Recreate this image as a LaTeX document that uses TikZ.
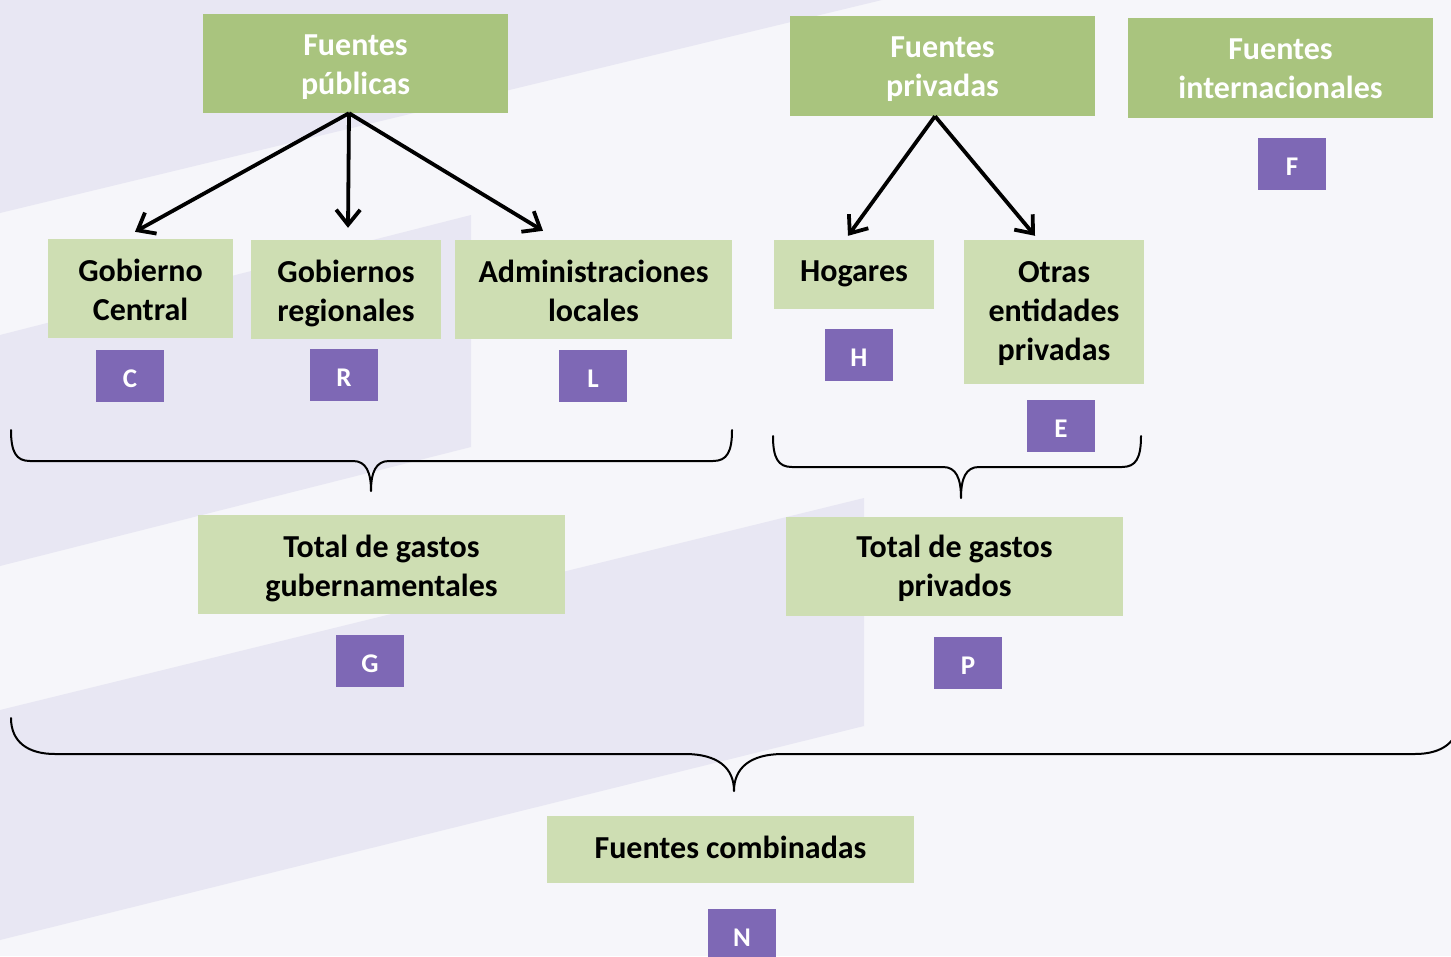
\documentclass[tikz,border=0pt]{standalone}
\usepackage{fontspec}
\setmainfont{Carlito}
\usetikzlibrary{arrows.meta}
\definecolor{bglight}{HTML}{F6F6FA}
\definecolor{bgdark}{HTML}{E8E7F3}
\definecolor{gdark}{HTML}{A9C47E}
\definecolor{glight}{HTML}{CEDEB3}
\definecolor{lpurple}{HTML}{7E68B5}
\tikzset{
  hdr/.style={fill=gdark, inner sep=0pt},
  sub/.style={fill=glight, inner sep=0pt},
  hdrtxt/.style={text=white, font=\bfseries\fontsize{32}{39}\selectfont, align=center, inner sep=0pt},
  subtxt/.style={text=black, font=\bfseries\fontsize{32}{39}\selectfont, align=center, inner sep=0pt},
  lett/.style={fill=lpurple, text=white, font=\bfseries\fontsize{27}{32}\selectfont, minimum width=68pt, minimum height=52pt, inner sep=0pt, text height=22pt, text depth=0pt},
  arr/.style={line width=3.8pt, -{Straight Barb[length=15pt,width=24pt]}},
  brace/.style={line width=2pt, line cap=round, line join=round},
}
\begin{document}
\begin{tikzpicture}[x=1pt,y=-1pt]
\clip (0,0) rectangle (1451,956);
\fill[bglight] (0,0) rectangle (1451,956);
\fill[bgdark] (0,0) -- (882,0) -- (0,213) -- cycle;
\fill[bgdark] (0,335) -- (471,215) -- (471,447) -- (0,566) -- cycle;
\fill[bgdark] (0,710) -- (864,498) -- (864,726) -- (0,940) -- cycle;

% header boxes
\node[hdr, minimum width=305pt, minimum height=99pt] (pub) at (355.5,63.5) {};
\node[hdrtxt] (pubt) at ([yshift=-4pt]pub.center) {Fuentes\\públicas};
\node[hdr, minimum width=305pt, minimum height=100pt] (priv) at (942.5,66) {};
\node[hdrtxt] (privt) at ([yshift=-3pt]priv.center) {Fuentes\\privadas};
\node[hdr, minimum width=305pt, minimum height=100pt] (intl) at (1280.5,68) {};
\node[hdrtxt] (intlt) at ([yshift=-1pt]intl.center) {Fuentes\\internacionales};

% sub boxes
\node[sub, minimum width=185pt, minimum height=99pt] (gc) at (140.5,288.5) {};
\node[subtxt] (gct) at ([yshift=-1pt]gc.center) {Gobierno\\Central};
\node[sub, minimum width=190pt, minimum height=99pt] (gr) at (346,289.5) {};
\node[subtxt] (grt) at ([yshift=-4pt]gr.center) {Gobiernos\\regionales};
\node[sub, minimum width=277pt, minimum height=99pt] (al) at (593.5,289.5) {};
\node[subtxt] (alt) at ([yshift=-1pt]al.center) {Administraciones\\locales};
\node[sub, minimum width=160pt, minimum height=69pt] (hog) at (854,274.5) {};
\node[subtxt] (hogt) at ([yshift=1pt]hog.center) {Hogares};
\node[sub, minimum width=180pt, minimum height=144pt] (otr) at (1054,312) {};
\node[subtxt] (otrt) at ([yshift=-2pt]otr.center) {Otras\\entidades\\privadas};
\node[sub, minimum width=367pt, minimum height=99pt] (tg) at (381.5,564.5) {};
\node[subtxt] (tgt) at ([yshift=-4pt]tg.center) {Total de gastos\\gubernamentales};
\node[sub, minimum width=337pt, minimum height=99pt] (tp) at (954.5,566.5) {};
\node[subtxt] (tpt) at ([yshift=-2pt]tp.center) {Total de gastos\\privados};
\node[sub, minimum width=367pt, minimum height=67pt] (fc) at (730.5,849.5) {};
\node[subtxt] (fct) at ([yshift=2pt]fc.center) {Fuentes combinadas};

% letter boxes
\node[lett] (lc) at (130,376) {C};
\node[lett] (lr) at (344,375) {R};
\node[lett] (ll) at (593,376) {L};
\node[lett] (lh) at (859,355) {H};
\node[lett] (le) at (1061,426) {E};
\node[lett] (lf) at (1292,164) {F};
\node[lett] (lg) at (370,661) {G};
\node[lett] (lp) at (968,663) {P};
\node[lett] (ln) at (742,935) {N};

% arrows
\draw[arr] ([xshift=-6.5pt]pub.south) -- ([xshift=-5.5pt,yshift=7pt]gc.north);
\draw[arr] ([xshift=-6.5pt]pub.south) -- ([xshift=2pt,yshift=12pt]gr.north);
\draw[arr] ([xshift=-6.5pt]pub.south) -- ([xshift=-50.5pt,yshift=9pt]al.north);
\draw[arr] ([xshift=-7.5pt]priv.south) -- ([xshift=-6pt,yshift=4pt]hog.north);
\draw[arr] ([xshift=-7.5pt]priv.south) -- ([xshift=-19pt,yshift=4pt]otr.north);

% braces
\coordinate (b1l) at (11,430);
\coordinate (b1m) at (371,491);
\coordinate (b1r) at (732,430);
\draw[brace] (b1l) .. controls (11,452) and (16,461) .. (30,461) -- (353,461)
  .. controls (366,461) and (371,472) .. (b1m)
  .. controls (371,472) and (376,461) .. (389,461) -- (713,461)
  .. controls (727,461) and (732,452) .. (b1r);
\coordinate (b2l) at (773,436);
\coordinate (b2m) at (961,498);
\coordinate (b2r) at (1141,436);
\draw[brace] (b2l) .. controls (773,458) and (778,467) .. (792,467) -- (943,467)
  .. controls (956,467) and (961,478) .. (b2m)
  .. controls (961,478) and (966,467) .. (979,467) -- (1122,467)
  .. controls (1136,467) and (1141,458) .. (b2r);
\coordinate (b3l) at (11,718);
\coordinate (b3m) at (734,791);
\coordinate (b3r) at (1459,718);
\draw[brace] (b3l) .. controls (11,742) and (28,754) .. (55,754) -- (685,754)
  .. controls (718,754) and (734,768) .. (b3m)
  .. controls (734,768) and (750,754) .. (783,754) -- (1415,754)
  .. controls (1442,754) and (1459,742) .. (b3r);
\end{tikzpicture}
\end{document}
